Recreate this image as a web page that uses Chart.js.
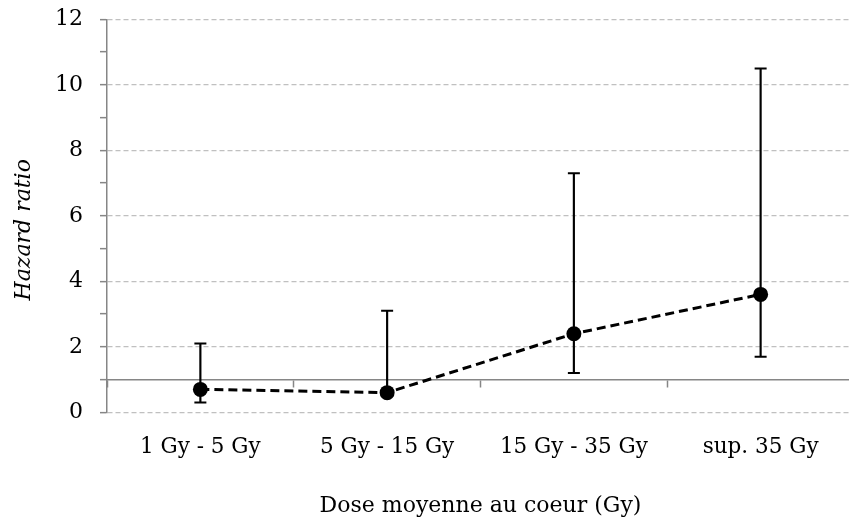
<!DOCTYPE html>
<html>
<head>
<meta charset="utf-8">
<script src="https://cdn.jsdelivr.net/npm/chart.js@4"></script>
<style>
  html, body { margin: 0; padding: 0; background: #fff; overflow: hidden; }
  #wrap { width: 862px; height: 519px; }
</style>
</head>
<body>
<div id="wrap"><canvas id="hrChart" width="862" height="519"></canvas></div>
<script>
// Data
const categories = ["1 Gy - 5 Gy", "5 Gy - 15 Gy", "15 Gy - 35 Gy", "sup. 35 Gy"];
const hazardRatio = [0.7, 0.6, 2.4, 3.6];
const ciLow = [0.3, 0.5, 1.2, 1.7];
const ciHigh = [2.1, 3.1, 7.3, 10.5];

const yMin = 0;
const yMax = 12;
const yStep = 1;
const refLineValue = 1; // horizontal axis crosses at HR = 1

const axisGray = "#868686";
const gridGray = "#c0c0c0";
const serif = "DejaVu Serif";

// floating bars give the vertical whiskers
const ciRanges = ciLow.map((lo, i) => [lo, ciHigh[i]]);

new Chart(document.getElementById("hrChart"), {
  type: "line",
  data: {
    labels: categories,
    datasets: [
      {
        label: "Hazard ratio",
        data: hazardRatio,
        borderColor: "#000",
        borderWidth: 3,
        borderDash: [9, 5],
        pointRadius: 7.5,
        pointBackgroundColor: "#000",
        pointBorderColor: "#000",
        pointBorderWidth: 0,
        tension: 0,
        order: 0,
      },
      {
        label: "CI low",
        data: ciLow,
        showLine: false,
        pointStyle: "line",
        pointRadius: 6,
        pointBorderWidth: 2,
        pointBorderColor: "#000",
        order: 1,
      },
      {
        label: "CI high",
        data: ciHigh,
        showLine: false,
        pointStyle: "line",
        pointRadius: 6,
        pointBorderWidth: 2,
        pointBorderColor: "#000",
        order: 1,
      },
      {
        type: "bar",
        label: "CI",
        data: ciRanges,
        backgroundColor: "#000",
        borderWidth: 0,
        barThickness: 1.5,
        order: 2,
      },
    ],
  },
  options: {
    responsive: false,
    animation: false,
    events: [],
    layout: { padding: { top: 19.3, right: 0, bottom: 0, left: 0 } },
    plugins: {
      legend: { display: false },
      tooltip: { enabled: false },
    },
    scales: {
      x: {
        type: "category",
        offset: true,
        grid: { display: false, drawTicks: false, offset: true },
        border: { display: false },
        ticks: {
          color: "#000",
          padding: 22,
          font: { family: serif, size: 21.5 },
          maxRotation: 0,
        },
        title: {
          display: true,
          text: "Dose moyenne au coeur (Gy)",
          color: "#000",
          font: { family: serif, size: 22 },
          padding: { top: 0, bottom: 0 },
        },
        afterFit: (scale) => {
          scale.height = 106.7;
        },
      },
      xRef: {
        type: "category",
        position: { y: refLineValue },
        offset: true,
        grid: {
          offset: true,
          drawOnChartArea: false,
          tickLength: 7,
          tickColor: axisGray,
          tickWidth: 1.5,
        },
        border: { display: true, color: axisGray, width: 1.5 },
        ticks: { display: false },
      },
      y: {
        min: yMin,
        max: yMax,
        ticks: {
          stepSize: yStep,
          autoSkip: false,
          color: "#000",
          padding: 17,
          font: { family: serif, size: 22 },
          callback: (v) => (v % 2 === 0 ? v : ""),
        },
        grid: {
          color: (ctx) => (ctx.tick && ctx.tick.value % 2 === 0 ? gridGray : "rgba(0,0,0,0)"),
          lineWidth: 1.3,
          tickLength: 7,
          tickColor: axisGray,
          tickWidth: 1.5,
          tickBorderDash: [],
        },
        border: { display: true, color: axisGray, width: 1.5, dash: [5, 3] },
        title: {
          display: true,
          text: "Hazard ratio\u00a0\u00a0\u00a0\u00a0",
          color: "#000",
          font: { family: serif, size: 22, style: "italic" },
          padding: { top: 11, bottom: 0 },
        },
        afterFit: (scale) => {
          scale.width = 107;
          scale.paddingTop = 0;
          scale.paddingBottom = 0;
        },
      },
    },
  },
});
</script>
</body>
</html>
